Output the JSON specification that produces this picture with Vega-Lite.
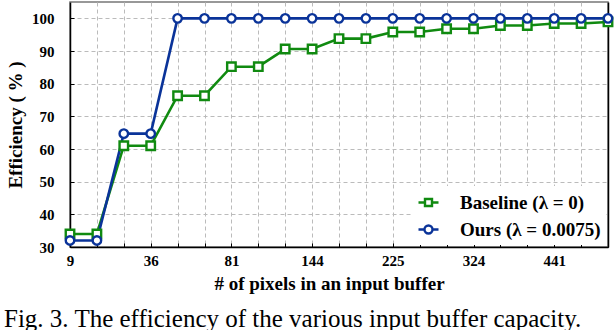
{
  "$schema": "https://vega.github.io/schema/vega-lite/v6.json",
  "width": 538,
  "height": 245,
  "autosize": "none",
  "padding": {"left": 70, "top": 2, "right": 8, "bottom": 83},
  "background": "white",
  "config": {
    "font": "Liberation Serif",
    "view": {"stroke": "#777", "strokeWidth": 1.5},
    "axis": {
      "labelFont": "Liberation Serif",
      "labelFontWeight": "bold",
      "labelFontSize": 15,
      "labelColor": "black",
      "titleFont": "Liberation Serif",
      "titleFontWeight": "bold",
      "titleColor": "black",
      "domainColor": "black",
      "domainWidth": 1.5,
      "tickColor": "black",
      "gridColor": "#bbbbbb",
      "gridDash": [4, 3],
      "gridWidth": 1
    }
  },
  "title": {
    "text": "Fig. 3. The efficiency of the various input buffer capacity.",
    "orient": "bottom",
    "anchor": "start",
    "frame": "group",
    "dx": -66,
    "offset": 14,
    "font": "Liberation Serif",
    "fontSize": 25,
    "fontWeight": "normal",
    "color": "black"
  },
  "data": {
    "values": [
      {"pixels": 9, "series": "Baseline (λ = 0)", "efficiency": 34.0},
      {"pixels": 16, "series": "Baseline (λ = 0)", "efficiency": 34.0},
      {"pixels": 25, "series": "Baseline (λ = 0)", "efficiency": 61.0},
      {"pixels": 36, "series": "Baseline (λ = 0)", "efficiency": 61.0},
      {"pixels": 49, "series": "Baseline (λ = 0)", "efficiency": 76.3},
      {"pixels": 64, "series": "Baseline (λ = 0)", "efficiency": 76.3},
      {"pixels": 81, "series": "Baseline (λ = 0)", "efficiency": 85.2},
      {"pixels": 100, "series": "Baseline (λ = 0)", "efficiency": 85.2},
      {"pixels": 121, "series": "Baseline (λ = 0)", "efficiency": 90.6},
      {"pixels": 144, "series": "Baseline (λ = 0)", "efficiency": 90.6},
      {"pixels": 169, "series": "Baseline (λ = 0)", "efficiency": 93.8},
      {"pixels": 196, "series": "Baseline (λ = 0)", "efficiency": 93.8},
      {"pixels": 225, "series": "Baseline (λ = 0)", "efficiency": 95.8},
      {"pixels": 256, "series": "Baseline (λ = 0)", "efficiency": 95.8},
      {"pixels": 289, "series": "Baseline (λ = 0)", "efficiency": 96.8},
      {"pixels": 324, "series": "Baseline (λ = 0)", "efficiency": 96.8},
      {"pixels": 361, "series": "Baseline (λ = 0)", "efficiency": 97.8},
      {"pixels": 400, "series": "Baseline (λ = 0)", "efficiency": 97.8},
      {"pixels": 441, "series": "Baseline (λ = 0)", "efficiency": 98.4},
      {"pixels": 484, "series": "Baseline (λ = 0)", "efficiency": 98.4},
      {"pixels": 529, "series": "Baseline (λ = 0)", "efficiency": 98.9},
      {"pixels": 9, "series": "Ours (λ = 0.0075)", "efficiency": 32.0},
      {"pixels": 16, "series": "Ours (λ = 0.0075)", "efficiency": 32.0},
      {"pixels": 25, "series": "Ours (λ = 0.0075)", "efficiency": 64.7},
      {"pixels": 36, "series": "Ours (λ = 0.0075)", "efficiency": 64.7},
      {"pixels": 49, "series": "Ours (λ = 0.0075)", "efficiency": 100},
      {"pixels": 64, "series": "Ours (λ = 0.0075)", "efficiency": 100},
      {"pixels": 81, "series": "Ours (λ = 0.0075)", "efficiency": 100},
      {"pixels": 100, "series": "Ours (λ = 0.0075)", "efficiency": 100},
      {"pixels": 121, "series": "Ours (λ = 0.0075)", "efficiency": 100},
      {"pixels": 144, "series": "Ours (λ = 0.0075)", "efficiency": 100},
      {"pixels": 169, "series": "Ours (λ = 0.0075)", "efficiency": 100},
      {"pixels": 196, "series": "Ours (λ = 0.0075)", "efficiency": 100},
      {"pixels": 225, "series": "Ours (λ = 0.0075)", "efficiency": 100},
      {"pixels": 256, "series": "Ours (λ = 0.0075)", "efficiency": 100},
      {"pixels": 289, "series": "Ours (λ = 0.0075)", "efficiency": 100},
      {"pixels": 324, "series": "Ours (λ = 0.0075)", "efficiency": 100},
      {"pixels": 361, "series": "Ours (λ = 0.0075)", "efficiency": 100},
      {"pixels": 400, "series": "Ours (λ = 0.0075)", "efficiency": 100},
      {"pixels": 441, "series": "Ours (λ = 0.0075)", "efficiency": 100},
      {"pixels": 484, "series": "Ours (λ = 0.0075)", "efficiency": 100},
      {"pixels": 529, "series": "Ours (λ = 0.0075)", "efficiency": 100}
    ]
  },
  "encoding": {
    "x": {
      "field": "pixels",
      "type": "ordinal",
      "scale": {"type": "point", "padding": 0},
      "axis": {
        "title": "# of pixels in an input buffer",
        "titleFontSize": 19,
        "titlePadding": 6,
        "titleX": 259,
        "labelAngle": 0,
        "labelExpr": "indexof([9,36,81,144,225,324,441], datum.value) >= 0 ? datum.label : ''",
        "labelPadding": 10,
        "tickSize": -4,
        "grid": true
      }
    },
    "color": {
      "field": "series",
      "type": "nominal",
      "scale": {
        "domain": ["Baseline (λ = 0)", "Ours (λ = 0.0075)"],
        "range": ["#108a10", "#0a3399"]
      },
      "legend": {
        "title": null,
        "orient": "bottom-right",
        "offset": 2,
        "padding": 5,
        "fillColor": "white",
        "labelFont": "Liberation Serif",
        "labelFontWeight": "bold",
        "labelFontSize": 19,
        "labelColor": "black",
        "labelOffset": 20,
        "symbolSize": 400,
        "symbolStrokeWidth": 2.4,
        "symbolFillColor": "white",
        "rowPadding": 5
      }
    }
  },
  "layer": [
    {
      "mark": {"type": "line", "strokeWidth": 2.6},
      "encoding": {
        "y": {
          "field": "efficiency",
          "type": "quantitative",
          "scale": {"domain": [30, 105], "nice": false, "zero": false},
          "axis": {
            "orient": "left",
            "title": "Efficiency ( % )",
            "titleFontSize": 19,
            "titlePadding": 6,
            "values": [30, 40, 50, 60, 70, 80, 90, 100],
            "labelPadding": 20,
            "tickSize": -4,
            "grid": true
          }
        }
      }
    },
    {
      "transform": [{"filter": "datum.series === 'Baseline (λ = 0)'"}],
      "mark": {"type": "point", "shape": "square", "filled": false, "fill": "white", "strokeWidth": 2.4, "opacity": 1, "size": 72},
      "encoding": {
        "y": {
          "field": "efficiency",
          "type": "quantitative",
          "scale": {"domain": [30, 105], "nice": false, "zero": false},
          "axis": null
        }
      }
    },
    {
      "transform": [{"filter": "datum.series === 'Ours (λ = 0.0075)'"}],
      "mark": {"type": "point", "shape": "circle", "filled": false, "fill": "white", "strokeWidth": 2.4, "opacity": 1, "size": 72},
      "encoding": {
        "y": {
          "field": "efficiency",
          "type": "quantitative",
          "scale": {"domain": [30, 105], "nice": false, "zero": false},
          "axis": null
        }
      }
    },
    {
      "transform": [{"filter": "datum.efficiency < 0"}],
      "mark": {"type": "point", "filled": false, "fill": "white", "strokeWidth": 2.4},
      "encoding": {
        "y": {
          "field": "efficiency",
          "type": "quantitative",
          "scale": {"domain": [30, 105], "nice": false, "zero": false},
          "axis": null
        },
        "shape": {
          "field": "series",
          "type": "nominal",
          "scale": {
            "domain": ["Baseline (λ = 0)", "Ours (λ = 0.0075)"],
            "range": [
              "M-1,0H-0.35M0.35,0H1M-0.35,-0.35H0.35V0.35H-0.35Z",
              "M-1,0H-0.4M0.4,0H1M-0.4,0A0.4,0.4,0,1,0,0.4,0A0.4,0.4,0,1,0,-0.4,0Z"
            ]
          }
        }
      }
    },
    {
      "mark": {"type": "point", "opacity": 0},
      "encoding": {
        "y": {
          "field": "efficiency",
          "type": "quantitative",
          "scale": {"domain": [30, 105], "nice": false, "zero": false},
          "axis": {"orient": "right", "labels": false, "ticks": false, "grid": false, "title": null}
        },
        "color": {"value": "black"}
      }
    }
  ],
  "resolve": {"axis": {"y": "independent"}}
}
